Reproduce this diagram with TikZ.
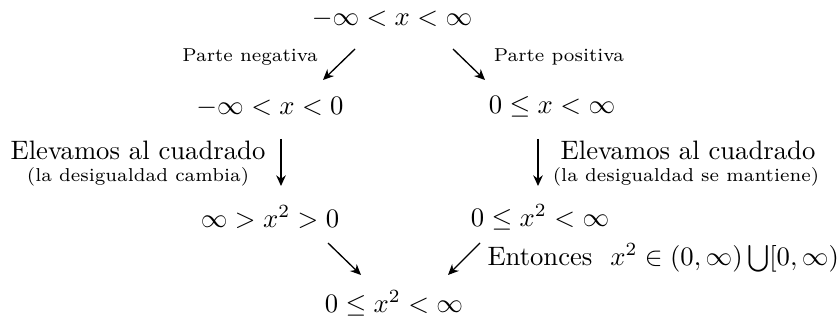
\documentclass[tikz,border=0pt]{standalone}
\usetikzlibrary{arrows.meta}
\tikzset{
  px/.style={x=0.375pt,y=-0.375pt},
  lbl/.style={inner sep=0pt,font=\normalsize},
  sml/.style={inner sep=0pt,font=\scriptsize},
  arr/.style={line width=0.5pt,-{Stealth[length=4pt,width=3.6pt]}}
}
\begin{document}
\begin{tikzpicture}[px]
\useasboundingbox (0,0) rectangle (840,320);
% nodes
\node[lbl] (top) at (392,19) {$-\infty<x<\infty$};
\node[sml] (pneg) at (250,57) {Parte negativa};
\node[sml] (ppos) at (559,57) {Parte positiva};
\node[lbl] (ml) at (270,107) {$-\infty<x<0$};
\node[lbl] (mr) at (552,107) {$0\le x<\infty$};
\node[lbl] (el1) at (138,150) {Elevamos al cuadrado};
\node[sml] (ca) at (138,177) {(la desigualdad cambia)};
\node[lbl] (el2) at (688,150) {Elevamos al cuadrado};
\node[sml] (ma) at (686,177) {(la desigualdad se mantiene)};
\node[lbl] (sl) at (270,217) {$\infty>x^2>0$};
\node[lbl] (sr) at (540,217) {$0\le x^2<\infty$};
\node[lbl,anchor=west] (ent) at (487,258) {Entonces\ \ $x^2\in(0,\infty)\bigcup[0,\infty)$};
\node[lbl] (bot) at (394,303) {$0\le x^2<\infty$};
% arrow end points
\coordinate (a1s) at (355,49); \coordinate (a1e) at (323,80);
\coordinate (a2s) at (453,49); \coordinate (a2e) at (485,80);
\coordinate (a3s) at (281,139); \coordinate (a3e) at (281,186);
\coordinate (a4s) at (538,139); \coordinate (a4e) at (538,186);
\coordinate (a5s) at (328,243); \coordinate (a5e) at (361,275);
\coordinate (a6s) at (480,243); \coordinate (a6e) at (448,275);
\draw[arr] (a1s) -- (a1e);
\draw[arr] (a2s) -- (a2e);
\draw[arr] (a3s) -- (a3e);
\draw[arr] (a4s) -- (a4e);
\draw[arr] (a5s) -- (a5e);
\draw[arr] (a6s) -- (a6e);
\end{tikzpicture}
\end{document}
